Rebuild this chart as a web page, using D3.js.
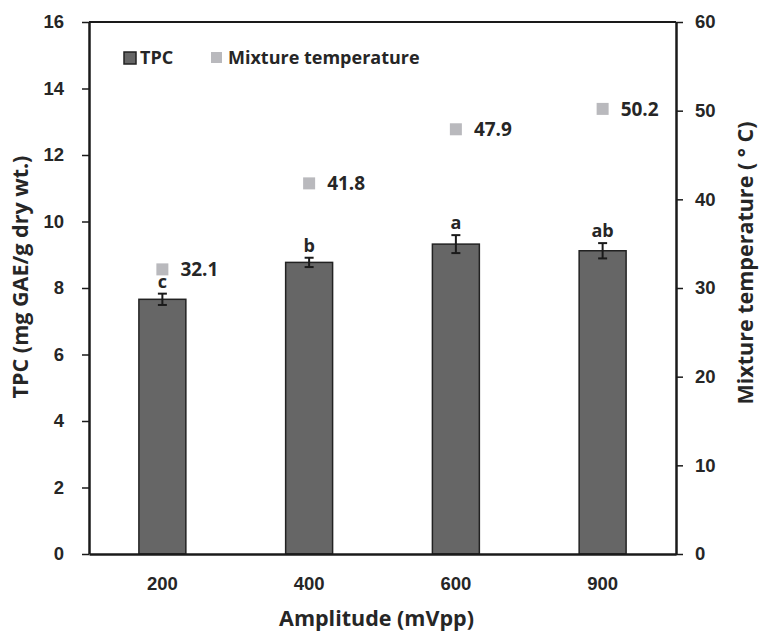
<!DOCTYPE html>
<html>
<head>
<meta charset="utf-8">
<script src="https://cdn.jsdelivr.net/npm/d3@7/dist/d3.min.js"></script>
<style>
  html, body { margin: 0; padding: 0; background: #fff; }
  svg { display: block; font-family: "Open Sans", "DejaVu Sans", sans-serif; font-weight: bold; }
</style>
</head>
<body>
<svg id="chart" width="760" height="632"></svg>
<script>
// Amplitude levels (mVpp)
const amplitudes = ["200", "400", "600", "900"];
// Total phenolic content, mg GAE/g dry wt.
const tpc = [7.66, 8.77, 9.32, 9.12];
const tpcErr = [0.17, 0.14, 0.27, 0.23];
const significance = ["c", "b", "a", "ab"];
// Mixture temperature, °C
const temperature = [32.1, 41.8, 47.9, 50.2];
const leftTicks = [0, 2, 4, 6, 8, 10, 12, 14, 16];
const rightTicks = [0, 10, 20, 30, 40, 50, 60];

const W = 760, H = 632;
const margin = { top: 22, right: 84, bottom: 78, left: 89 };
const iw = W - margin.left - margin.right;
const ih = H - margin.top - margin.bottom;
const ink = "#262626";

const svg = d3.select("#chart");
const g = svg.append("g").attr("transform", `translate(${margin.left},${margin.top})`);

const x = d3.scaleBand().domain(amplitudes).range([0, iw]).paddingInner(0.68).paddingOuter(0.34);
const y = d3.scaleLinear().domain([0, 16]).range([ih, 0]);
const yR = d3.scaleLinear().domain([0, 60]).range([ih, 0]);

// bars
g.selectAll("rect.bar").data(amplitudes).join("rect")
  .attr("class", "bar")
  .attr("x", d => x(d))
  .attr("y", (d, i) => y(tpc[i]))
  .attr("width", x.bandwidth())
  .attr("height", (d, i) => ih - y(tpc[i]))
  .attr("fill", "#666666")
  .attr("stroke", "#222")
  .attr("stroke-width", 1.5);

// error bars
const cx = d => x(d) + x.bandwidth() / 2;
const eb = g.selectAll("g.err").data(amplitudes).join("g").attr("class", "err")
  .attr("stroke", "#1a1a1a").attr("stroke-width", 2);
eb.append("line").attr("x1", cx).attr("x2", cx)
  .attr("y1", (d, i) => y(tpc[i] + tpcErr[i])).attr("y2", (d, i) => y(tpc[i] - tpcErr[i]));
eb.append("line").attr("x1", d => cx(d) - 4.5).attr("x2", d => cx(d) + 4.5)
  .attr("y1", (d, i) => y(tpc[i] + tpcErr[i])).attr("y2", (d, i) => y(tpc[i] + tpcErr[i]));
eb.append("line").attr("x1", d => cx(d) - 4.5).attr("x2", d => cx(d) + 4.5)
  .attr("y1", (d, i) => y(tpc[i] - tpcErr[i])).attr("y2", (d, i) => y(tpc[i] - tpcErr[i]));

// significance letters
g.selectAll("text.sig").data(amplitudes).join("text")
  .attr("class", "sig")
  .attr("x", cx)
  .attr("y", (d, i) => y(tpc[i] + tpcErr[i]) - 6)
  .attr("text-anchor", "middle")
  .attr("font-size", 18)
  .attr("fill", ink)
  .text((d, i) => significance[i]);

// temperature markers
const ms = 12;
g.selectAll("rect.temp").data(amplitudes).join("rect")
  .attr("class", "temp")
  .attr("x", d => cx(d) - ms / 2)
  .attr("y", (d, i) => yR(temperature[i]) - ms / 2)
  .attr("width", ms).attr("height", ms)
  .attr("fill", "#b9b9bd");
g.selectAll("text.tempLabel").data(amplitudes).join("text")
  .attr("class", "tempLabel")
  .attr("x", d => cx(d) + 18)
  .attr("y", (d, i) => yR(temperature[i]) + 7)
  .attr("font-size", 19)
  .attr("fill", ink)
  .text((d, i) => temperature[i].toFixed(1));

// frame: top border
g.append("line").attr("x1", 0).attr("x2", iw).attr("y1", 0).attr("y2", 0)
  .attr("stroke", "#1a1a1a").attr("stroke-width", 2);

// axes
const styleAxis = sel => {
  sel.select(".domain").attr("stroke", "#1a1a1a").attr("stroke-width", 2.5);
  sel.selectAll(".tick line").attr("stroke", "#1a1a1a").attr("stroke-width", 1.5);
  sel.selectAll(".tick text").attr("fill", ink).attr("font-size", 18.5).attr("font-family", null).attr("font-weight", "bold");
};
g.append("g").call(d3.axisLeft(y).tickValues(leftTicks).tickSize(7).tickPadding(18).tickSizeOuter(0))
  .call(styleAxis);
g.append("g").attr("transform", `translate(${iw},0)`)
  .call(d3.axisRight(yR).tickValues(rightTicks).tickSize(7).tickPadding(12).tickSizeOuter(0))
  .call(styleAxis);
g.append("g").attr("transform", `translate(0,${ih})`)
  .call(d3.axisBottom(x).tickSize(0).tickPadding(23))
  .call(styleAxis);

// axis titles
svg.append("text")
  .attr("transform", `translate(${margin.left + iw / 2 - 6},${H - 6})`)
  .attr("text-anchor", "middle").attr("font-size", 21.5).attr("fill", ink)
  .text("Amplitude (mVpp)");
svg.append("text")
  .attr("transform", `translate(28,277) rotate(-90)`)
  .attr("text-anchor", "middle").attr("font-size", 21.5).attr("fill", ink)
  .text("TPC (mg GAE/g dry wt.)");
svg.append("text")
  .attr("transform", `translate(753,263) rotate(-90)`)
  .attr("text-anchor", "middle").attr("font-size", 21.5).attr("fill", ink)
  .text("Mixture temperature ( \u00B0 C)");

// legend
const lg = svg.append("g");
lg.append("rect").attr("x", 124).attr("y", 52).attr("width", 12).attr("height", 12)
  .attr("fill", "#666666").attr("stroke", "#222").attr("stroke-width", 1.5);
lg.append("text").attr("x", 140).attr("y", 64).attr("font-size", 18).attr("fill", ink).text("TPC");
lg.append("rect").attr("x", 211).attr("y", 52).attr("width", 11).attr("height", 11)
  .attr("fill", "#b9b9bd");
lg.append("text").attr("x", 228).attr("y", 64).attr("font-size", 18).attr("fill", ink).text("Mixture temperature");
</script>
</body>
</html>
